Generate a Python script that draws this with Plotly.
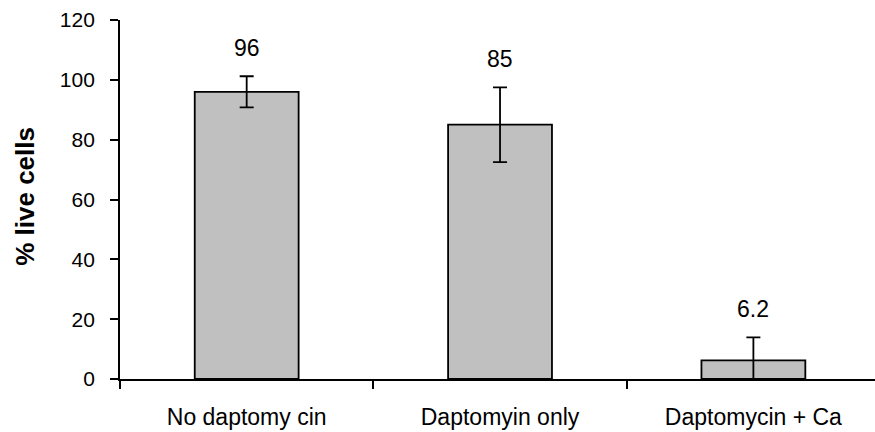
import plotly.graph_objects as go

# Viability after treatment
categories = ["No daptomy cin", "Daptomyin only", "Daptomycin + Ca"]
live_pct = [96, 85, 6.2]
err_pct = [5.2, 12.5, 7.7]
label_text = ["96", "85", "6.2"]
y_ticks = [0, 20, 40, 60, 80, 100, 120]

FONT = "Liberation Sans, Arial, sans-serif"

fig = go.Figure()
fig.add_trace(go.Bar(
    x=categories,
    y=live_pct,
    width=0.41,
    marker=dict(color="#c0c0c0", line=dict(color="black", width=1.8)),
    error_y=dict(type="data", array=err_pct, visible=True,
                 color="black", thickness=1.8, width=7),
    showlegend=False,
    hoverinfo="skip",
))

# value labels above each error bar
for cat, v, e, t in zip(categories, live_pct, err_pct, label_text):
    fig.add_annotation(x=cat, y=v + e, text=t, showarrow=False,
                       yshift=28, yanchor="middle",
                       font=dict(family=FONT, size=23, color="black"))

# y-axis title
fig.add_annotation(xref="paper", yref="paper", x=-0.126, y=0.51,
                   text="<b>% live cells</b>", textangle=-90, showarrow=False,
                   xanchor="center", yanchor="middle",
                   font=dict(family=FONT, size=26, color="black"))

fig.update_layout(
    width=875, height=432,
    margin=dict(l=120, r=0, t=20, b=53),
    plot_bgcolor="white", paper_bgcolor="white",
    bargap=0.59,
    xaxis=dict(
        range=[-0.5, 2.48],
        showline=True, linecolor="black", linewidth=1.8,
        ticks="outside", tickson="boundaries", ticklen=8, tickwidth=1.8,
        tickcolor="black", showgrid=False, zeroline=False,
        ticklabelstandoff=16,
        tickfont=dict(family=FONT, size=23, color="black"),
    ),
    yaxis=dict(
        range=[0, 120], tickvals=y_ticks,
        showline=True, linecolor="black", linewidth=1.8,
        ticks="outside", ticklen=8, tickwidth=1.8, tickcolor="black",
        showgrid=False, zeroline=False,
        ticklabelstandoff=11,
        tickfont=dict(family=FONT, size=21, color="black"),
    ),
)

fig.write_html("out.html")
